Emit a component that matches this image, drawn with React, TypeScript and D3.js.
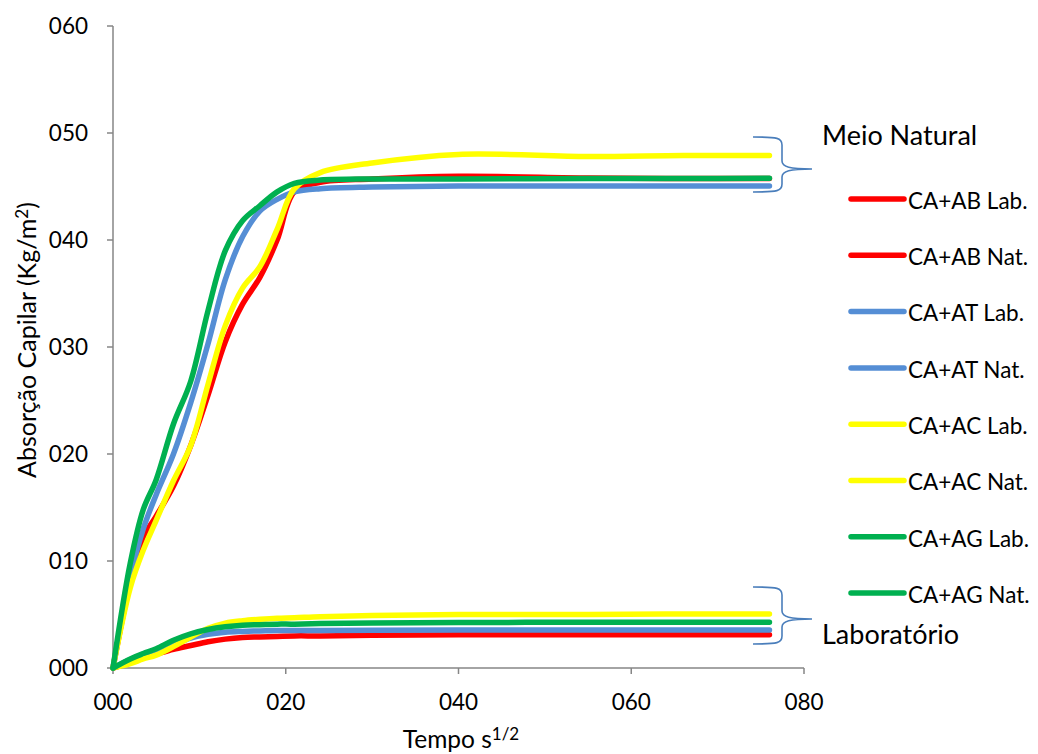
import React from "react";
import * as d3 from "d3";

const xValues = [0, 2, 3.5, 5, 7, 9, 11, 13, 15, 17, 19, 21, 24, 30, 40, 55, 66, 76];

const abLab = [0, 0.5, 0.95, 1.3, 1.75, 2.1, 2.45, 2.7, 2.85, 2.9, 2.95, 3.0, 3.0, 3.05, 3.1, 3.1, 3.1, 3.1];
const abNat = [0, 8, 12.2, 14.2, 17, 20.8, 25.5, 30.5, 34, 36.5, 40, 44.5, 45.4, 45.7, 45.95, 45.8, 45.75, 45.75];
const atLab = [0, 0.8, 1.25, 1.65, 2.2, 2.8, 3.15, 3.35, 3.42, 3.46, 3.5, 3.5, 3.5, 3.52, 3.55, 3.55, 3.55, 3.55];
const atNat = [0, 8.5, 13, 16.2, 20, 24.8, 30.3, 36.3, 40.3, 42.7, 43.8, 44.5, 44.8, 44.95, 45.05, 45.05, 45.05, 45.05];
const acLab = [0, 0.4, 0.85, 1.2, 2.0, 2.9, 3.7, 4.2, 4.42, 4.55, 4.65, 4.7, 4.8, 4.9, 5.0, 5.0, 5.05, 5.05];
const acNat = [0, 7.5, 11, 13.8, 17.5, 20.8, 26.5, 32, 35.5, 37.5, 41, 44.8, 46.3, 47.2, 48, 47.8, 47.9, 47.9];
const agLab = [0, 0.85, 1.35, 1.8, 2.6, 3.2, 3.6, 3.85, 4.0, 4.05, 4.1, 4.1, 4.15, 4.2, 4.25, 4.27, 4.27, 4.27];
const agNat = [0, 9.8, 14.8, 17.6, 22.8, 26.8, 33.4, 39, 41.8, 43.2, 44.5, 45.3, 45.6, 45.7, 45.7, 45.75, 45.75, 45.77];

const seriesNames = [
  "CA+AB Lab.", "CA+AB Nat.", "CA+AT Lab.", "CA+AT Nat.",
  "CA+AC Lab.", "CA+AC Nat.", "CA+AG Lab.", "CA+AG Nat.",
];
const seriesValues = [abLab, abNat, atLab, atNat, acLab, acNat, agLab, agNat];
const seriesColors = [
  "#FF0000", "#FF0000", "#558ED5", "#558ED5",
  "#FFFF00", "#FFFF00", "#00B050", "#00B050",
];

const xTicks = [0, 20, 40, 60, 80];
const yTicks = [0, 10, 20, 30, 40, 50, 60];

const FONT = "Lato, 'Open Sans', sans-serif";

export default function App() {
  const W = 1038, H = 754;
  const x = d3.scaleLinear().domain([0, 80]).range([113, 804]);
  const y = d3.scaleLinear().domain([0, 60]).range([668, 26]);
  const fmt = d3.format("03d");
  const line = d3
    .line<[number, number]>()
    .x((d) => x(d[0]))
    .y((d) => y(d[1]))
    .curve(d3.curveCatmullRom.alpha(0.5));

  const axisColor = "#868686";
  const braceColor = "#4A7EBB";

  const brace = (top: number, bottom: number, tip: number) => {
    const xl = 753, xv = 782, xt = 812;
    return `M${xl},${top} C${xv - 4},${top} ${xv},${top + 1} ${xv},${top + 8}
      L${xv},${tip - 8} C${xv},${tip - 2} ${xv + 8},${tip} ${xt},${tip}
      C${xv + 8},${tip} ${xv},${tip + 2} ${xv},${tip + 8}
      L${xv},${bottom - 8} C${xv},${bottom - 1} ${xv - 4},${bottom} ${xl},${bottom}`;
  };

  const legendY = (i: number) => 199 + i * 56.3;

  return (
    <svg
      width={W}
      height={H}
      style={{ position: "absolute", left: 0, top: 0, background: "#fff" }}
    >
      <rect width={W} height={H} fill="#fff" />
      {/* axes */}
      <line x1={113} y1={26} x2={113} y2={668} stroke={axisColor} strokeWidth={1.5} />
      <line x1={113} y1={668} x2={804} y2={668} stroke={axisColor} strokeWidth={1.5} />
      {yTicks.map((t) => (
        <g key={"y" + t}>
          <line x1={107} x2={113} y1={y(t)} y2={y(t)} stroke={axisColor} strokeWidth={1.5} />
          <text x={88} y={y(t)} dy="0.36em" textAnchor="end" fontFamily={FONT} fontSize={22.5} fill="#000">
            {fmt(t)}
          </text>
        </g>
      ))}
      {xTicks.map((t) => (
        <g key={"x" + t}>
          <line x1={x(t)} x2={x(t)} y1={668} y2={674} stroke={axisColor} strokeWidth={1.5} />
          <text x={x(t)} y={702} dy="0.36em" textAnchor="middle" fontFamily={FONT} fontSize={22.5} fill="#000">
            {fmt(t)}
          </text>
        </g>
      ))}
      {/* axis titles */}
      <text x={461} y={748} textAnchor="middle" fontFamily={FONT} fontSize={24.5} fill="#000">
        Tempo s<tspan dy="-8" fontSize={17}>1/2</tspan>
      </text>
      <text
        transform="translate(27,340) rotate(-90)"
        textAnchor="middle"
        dy="0.35em"
        fontFamily={FONT}
        fontSize={25}
        fill="#000"
      >
        Absorção Capilar (Kg/m<tspan dy="-8" fontSize={17}>2</tspan><tspan dy="8">)</tspan>
      </text>
      {/* series */}
      {seriesValues.map((vals, i) => (
        <path
          key={seriesNames[i]}
          d={line(xValues.map((xv, j) => [xv, vals[j]] as [number, number])) || ""}
          fill="none"
          stroke={seriesColors[i]}
          strokeWidth={5.5}
          strokeLinecap="round"
          strokeLinejoin="round"
        />
      ))}
      {/* braces */}
      <path d={brace(137, 192, 169)} fill="none" stroke={braceColor} strokeWidth={1.6} />
      <path d={brace(587, 644, 619)} fill="none" stroke={braceColor} strokeWidth={1.6} />
      <text x={822} y={145} fontFamily={FONT} fontSize={27} fill="#000">
        Meio Natural
      </text>
      <text x={822} y={644} fontFamily={FONT} fontSize={27} fill="#000">
        Laboratório
      </text>
      {/* legend */}
      {seriesNames.map((name, i) => (
        <g key={"lg" + name}>
          <line
            x1={851}
            x2={904}
            y1={legendY(i)}
            y2={legendY(i)}
            stroke={seriesColors[i]}
            strokeWidth={5.5}
            strokeLinecap="round"
          />
          <text x={908} y={legendY(i) + 2} dy="0.35em" fontFamily={FONT} fontSize={22.5} fill="#000">
            {name}
          </text>
        </g>
      ))}
    </svg>
  );
}
